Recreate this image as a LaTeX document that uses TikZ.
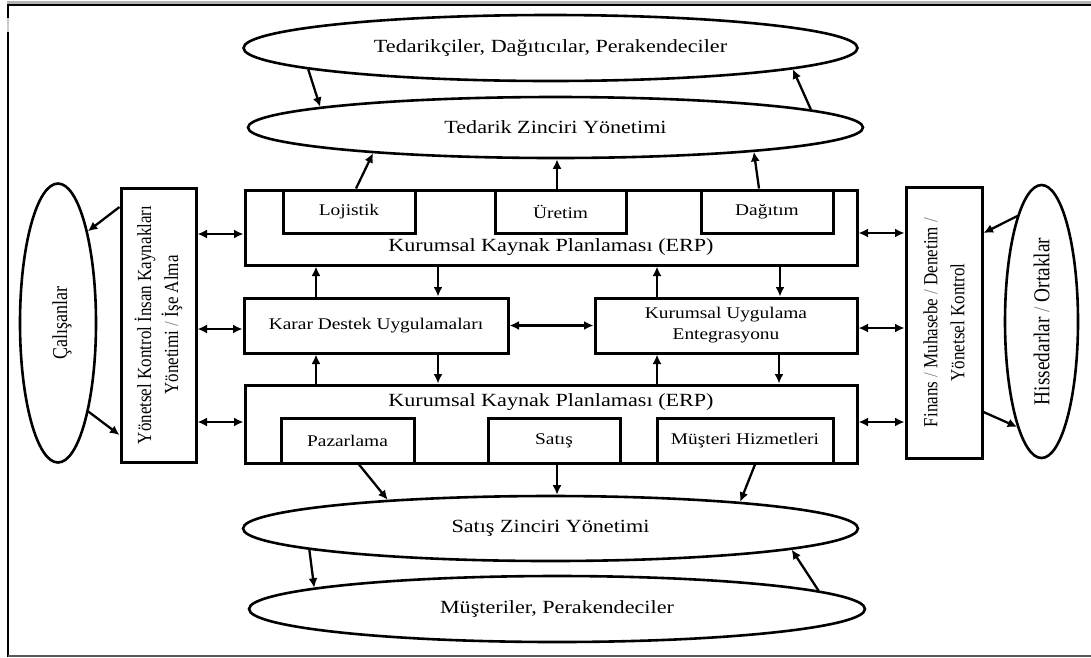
\documentclass[tikz,border=0pt]{standalone}
\usepackage{fontspec}
\setmainfont[FakeStretch=1.19]{Liberation Serif}
\newfontfamily\vfont[FakeStretch=0.85]{Liberation Serif}
\usetikzlibrary{arrows.meta,shapes.geometric}
\tikzset{
  box/.style={draw, line width=3pt, inner sep=0pt},
  ell/.style={draw, ellipse, line width=2.6pt, inner sep=0pt},
  txt/.style={inner sep=0pt, align=center},
  big/.style={font=\fontsize{18.6}{22}\selectfont},
  small/.style={font=\fontsize{16.3}{21}\selectfont},
  side/.style={font=\vfont\fontsize{20}{27}\selectfont, rotate=90},
  arr/.style={line width=2.3pt, -{Latex[length=9.5pt,width=9pt]}},
  darr/.style={line width=2.3pt, {Latex[length=9.5pt,width=9pt]}-{Latex[length=9.5pt,width=9pt]}},
}
\newcommand{\sep}{\textcolor{gray}{/}}
\begin{document}
\begin{tikzpicture}[x=1pt,y=-1pt]
\useasboundingbox (0,0) rectangle (1091,657);
% page frame: open on the right
\draw[line width=2.8pt, gray!60] (6.5,2.5) -- (1091,2.5);
\draw[line width=2.6pt] (8,5) -- (1091,5);
\draw[line width=2.6pt] (8,3.8) -- (8,657);
\draw[line width=1.5pt, gray!40] (8,18) -- (8,32);
\draw[line width=2pt, black!65] (8,656) -- (1091,656);

% outer partners and chain management
\node[ell, big, minimum width=614pt, minimum height=66pt] (sup) at (550.5,48) {Tedarikçiler, Dağıtıcılar, Perakendeciler};
\node[ell, big, minimum width=615pt, minimum height=61pt] (scm) at (555.5,127.5) {Tedarik Zinciri Yönetimi};
\node[ell, big, minimum width=615pt, minimum height=65pt] (sales) at (550.5,528.5) {Satış Zinciri Yönetimi};
\node[ell, big, minimum width=616pt, minimum height=66pt] (cust) at (557,609) {Müşteriler, Perakendeciler};
\node[ell, minimum width=76pt, minimum height=279pt] (cal) at (58,323) {};
\node[txt, font=\vfont\fontsize{21.2}{26}\selectfont, rotate=90] at (62,323) {Çalışanlar};
\node[ell, minimum width=73pt, minimum height=273pt] (his) at (1041.5,321.5) {};
\node[txt, font=\vfont\fontsize{22.7}{26}\selectfont, rotate=90] at (1041.5,321.5) {Hissedarlar \sep{} Ortaklar};

% side control boxes
\node[box, minimum width=75pt, minimum height=274pt] (ykb) at (158.5,325) {};
\node[txt, side] at (158.5,325) {Yönetsel Kontrol İnsan Kaynakları\\Yönetimi \sep{} İşe Alma};
\node[box, minimum width=76pt, minimum height=271pt] (fin) at (944,322.5) {};
\node[txt, side] at (944,322.5) {Finans \sep{} Muhasebe \sep{} Denetim \sep\\Yönetsel Kontrol};

% upper ERP block
\node[box, minimum width=612pt, minimum height=75pt] (erpT) at (551,227.5) {};
\node[txt, big] at (551,247) {Kurumsal Kaynak Planlaması (ERP)};
\node[box, small, minimum width=132pt, minimum height=43pt] (loj) at (349,211.5) {Lojistik};
\node[box, small, minimum width=131pt, minimum height=43pt] (ure) at (560.5,211.5) {Üretim};
\node[box, small, minimum width=132pt, minimum height=43pt] (dag) at (767,211.5) {Dağıtım};

% middle applications
\node[box, small, minimum width=264pt, minimum height=55pt] (kds) at (376,325.5) {Karar Destek Uygulamaları};
\node[box, small, align=center, minimum width=262pt, minimum height=55pt] (kue) at (726,325.5) {Kurumsal Uygulama\\Entegrasyonu};

% lower ERP block
\node[box, minimum width=612pt, minimum height=78pt] (erpB) at (551,424) {};
\node[txt, big] at (551,402) {Kurumsal Kaynak Planlaması (ERP)};
\node[box, small, minimum width=133pt, minimum height=45pt] (paz) at (347.5,440.5) {Pazarlama};
\node[box, small, minimum width=132pt, minimum height=45pt] (sat) at (554,440.5) {Satış};
\node[box, small, minimum width=176pt, minimum height=45pt] (mus) at (745,440.5) {Müşteri Hizmetleri};

% supply side
\draw[arr] (sup.185.8) -- (scm.175.8);
\draw[arr] (scm.4.45) -- (sup.-5.4);
\draw[arr] (erpT.north -| 356,0) -- (scm.-172.5);
\draw[arr] (erpT.north -| 557,0) -- (scm.south -| 557,0);
\draw[arr] (erpT.north -| 759,0) -- (scm.-7.05);

% sales side
\draw[arr] (erpB.south -| 359,0) -- (sales.170.8);
\draw[arr] (erpB.south -| 557,0) -- (sales.north -| 557,0);
\draw[arr] (erpB.south -| 755,0) -- (sales.8.2);
\draw[arr] (sales.185.2) -- (cust.175.9);
\draw[arr] (cust.4.5) -- (sales.-5);

% between ERP blocks and applications
\draw[arr] (kds.north -| 316,0) -- (erpT.south -| 316,0);
\draw[arr] (erpT.south -| 438,0) -- (kds.north -| 438,0);
\draw[arr] (kue.north -| 657,0) -- (erpT.south -| 657,0);
\draw[arr] (erpT.south -| 780,0) -- (kue.north -| 780,0);
\draw[arr] (erpB.north -| 316,0) -- (kds.south -| 316,0);
\draw[arr] (kds.south -| 438,0) -- (erpB.north -| 438,0);
\draw[arr] (erpB.north -| 657,0) -- (kue.south -| 657,0);
\draw[arr] (kue.south -| 779,0) -- (erpB.north -| 779,0);
\draw[darr] (kds) -- (kue);

% left side links
\draw[darr] (ykb.east |- 0,234) -- (erpT.west |- 0,234);
\draw[darr] (ykb.east |- 0,329) -- (kds.west |- 0,329);
\draw[darr] (ykb.east |- 0,422) -- (erpB.west |- 0,422);
\draw[arr] (ykb.west |- 0,207) -- (cal.72);
\draw[arr] (cal.-71) -- (ykb.west |- 0,435);

% right side links
\draw[darr] (erpT.east |- 0,233) -- (fin.west |- 0,233);
\draw[darr] (kue.east |- 0,328) -- (fin.west |- 0,328);
\draw[darr] (erpB.east |- 0,422) -- (fin.west |- 0,422);
\draw[arr] (his.103) -- (fin.east |- 0,233);
\draw[arr] (fin.east |- 0,412) -- (his.-103);
\end{tikzpicture}
\end{document}
